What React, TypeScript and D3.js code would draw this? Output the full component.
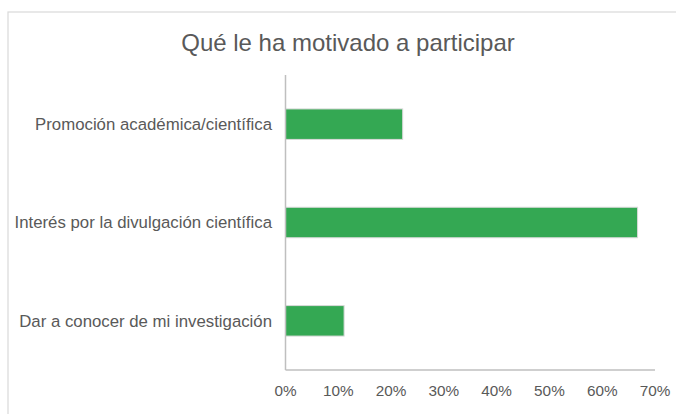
import React from "react";
import * as d3 from "d3";

const categories = [
  "Promoción académica/científica",
  "Interés por la divulgación científica",
  "Dar a conocer de mi investigación",
];
const values = [22.2, 66.7, 11.1];
const tickValues = [0, 10, 20, 30, 40, 50, 60, 70];
const title = "Qué le ha motivado a participar";

const W = 676;
const H = 414;
const left = 285.5;
const right = 655;
const top = 75;
const bottom = 370;
const FONT = "'Liberation Sans', Arial, sans-serif";
const TXT = "#595959";

export default function App() {
  const x = d3.scaleLinear().domain([0, 70]).range([left, right]);
  const y = d3.scaleBand<string>().domain(categories).range([top, bottom]).paddingInner(0.69).paddingOuter(0.345);
  return (
    <svg width={W} height={H} style={{ position: "fixed", left: 0, top: 0, background: "#fff" }}>
      <rect x={8} y={12} width={W + 20} height={H + 20} fill="#fff" stroke="#d9d9d9" strokeWidth={1.2} />
      <text x={348} y={51} textAnchor="middle" fontFamily={FONT} fontSize={24} fill={TXT}>
        {title}
      </text>
      {categories.map((c, i) => (
        <g key={c}>
          <rect
            x={x(0)}
            y={y(c)!}
            width={x(values[i]) - x(0)}
            height={y.bandwidth()}
            fill="#34a853"
            stroke="#d9d9d9"
            strokeWidth={1}
          />
          <text
            x={272}
            y={y(c)! + y.bandwidth() / 2}
            dy="0.35em"
            textAnchor="end"
            fontFamily={FONT}
            fontSize={16.8}
            fill={TXT}
          >
            {c}
          </text>
        </g>
      ))}
      <line x1={left} x2={left} y1={top} y2={bottom} stroke="#bfbfbf" strokeWidth={1.5} />
      <line x1={left} x2={right} y1={bottom} y2={bottom} stroke="#bfbfbf" strokeWidth={1.5} />
      {tickValues.map((t) => (
        <text key={t} x={x(t)} y={395.5} textAnchor="middle" fontFamily={FONT} fontSize={15.3} fill={TXT}>
          {t}%
        </text>
      ))}
    </svg>
  );
}
